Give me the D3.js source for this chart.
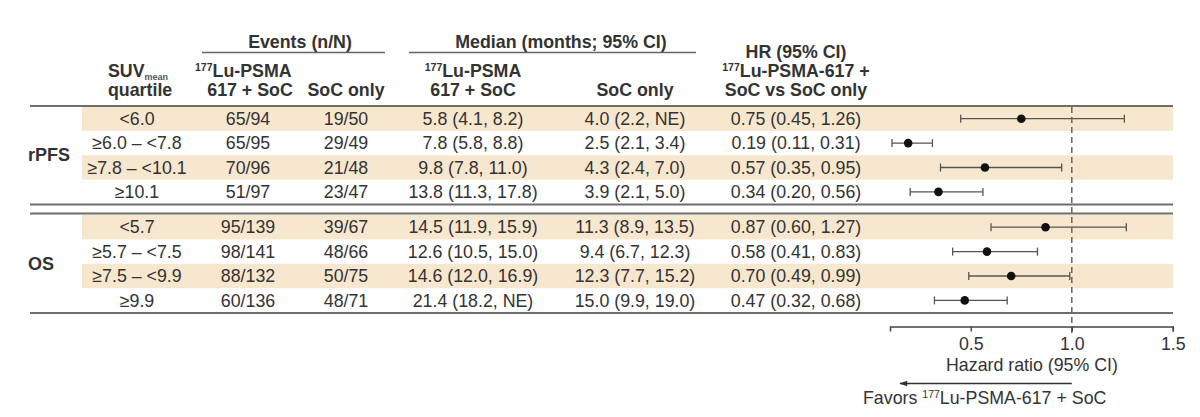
<!DOCTYPE html>
<html>
<head>
<meta charset="utf-8">
<script src="https://cdn.jsdelivr.net/npm/d3@7"></script>
<style>
	html, body { margin: 0; padding: 0; background: #fff; }
	svg { display: block; font-family: "Liberation Sans", Arial, sans-serif; }
	text { fill: #333; font-size: 17.8px; }
	.hdr { font-weight: bold; }
	.rule { stroke: #6e6e6e; stroke-width: 2; }
</style>
</head>
<body>
<svg width="1200" height="417"></svg>
<script>

	// values
	var sections = [ 'rPFS', 'OS' ],
		quartiles = [
			[ '<6.0', '≥6.0 – <7.8', '≥7.8 – <10.1', '≥10.1' ],
			[ '<5.7', '≥5.7 – <7.5', '≥7.5 – <9.9', '≥9.9' ]
		],
		eventsLu = [ [ '65/94', '65/95', '70/96', '51/97' ], [ '95/139', '98/141', '88/132', '60/136' ] ],
		eventsSoc = [ [ '19/50', '29/49', '21/48', '23/47' ], [ '39/67', '48/66', '50/75', '48/71' ] ],
		medianLu = [
			[ '5.8 (4.1, 8.2)', '7.8 (5.8, 8.8)', '9.8 (7.8, 11.0)', '13.8 (11.3, 17.8)' ],
			[ '14.5 (11.9, 15.9)', '12.6 (10.5, 15.0)', '14.6 (12.0, 16.9)', '21.4 (18.2, NE)' ]
		],
		medianSoc = [
			[ '4.0 (2.2, NE)', '2.5 (2.1, 3.4)', '4.3 (2.4, 7.0)', '3.9 (2.1, 5.0)' ],
			[ '11.3 (8.9, 13.5)', '9.4 (6.7, 12.3)', '12.3 (7.7, 15.2)', '15.0 (9.9, 19.0)' ]
		],
		hr = [ [ 0.75, 0.19, 0.57, 0.34 ], [ 0.87, 0.58, 0.70, 0.47 ] ],
		hrLow = [ [ 0.45, 0.11, 0.35, 0.20 ], [ 0.60, 0.41, 0.49, 0.32 ] ],
		hrHigh = [ [ 1.26, 0.31, 0.95, 0.56 ], [ 1.27, 0.83, 0.99, 0.68 ] ],
		hrTicks = [ 0.5, 1.0, 1.5 ];

	var svg = d3.select( 'svg' ),
		rowH = 24.4,
		sectionTop = [ 106.5, 215 ],
		left = 30,
		right = 1173,
		bandLeft = 82,
		colX = {
			quartile: 137,
			evLu: 248,
			evSoc: 346,
			medLu: 473,
			medSoc: 635,
			hr: 796
		},
		x = d3.scaleLinear().domain( [ 0.1, 1.5 ] ).range( [ 890, 1172.8 ] );

	/**
	 * text with a raised "177" in front
	 */
	function isoText( sel, rest ) {
		sel.append( 'tspan' ).attr( 'font-size', '10.5px' ).attr( 'dy', -6.5 ).text( '177' );
		sel.append( 'tspan' ).attr( 'dy', 6.5 ).text( rest );
		return sel;
	}

	// ---- header
	var head = svg.append( 'g' );

	head.append( 'text' ).attr( 'class', 'hdr' ).attr( 'x', 300 ).attr( 'y', 48 )
		.attr( 'text-anchor', 'middle' ).text( 'Events (n/N)' );
	head.append( 'line' ).attr( 'x1', 202 ).attr( 'x2', 385 ).attr( 'y1', 52.5 ).attr( 'y2', 52.5 )
		.attr( 'stroke', '#666' ).attr( 'stroke-width', 1.5 );

	head.append( 'text' ).attr( 'class', 'hdr' ).attr( 'x', 561 ).attr( 'y', 48 )
		.attr( 'text-anchor', 'middle' ).text( 'Median (months; 95% CI)' );
	head.append( 'line' ).attr( 'x1', 409 ).attr( 'x2', 696 ).attr( 'y1', 52.5 ).attr( 'y2', 52.5 )
		.attr( 'stroke', '#666' ).attr( 'stroke-width', 1.5 );

	var suv = head.append( 'text' ).attr( 'class', 'hdr' ).attr( 'x', 108 ).attr( 'y', 77 );
	suv.append( 'tspan' ).text( 'SUV' );
	suv.append( 'tspan' ).attr( 'font-size', '9px' ).attr( 'dy', 2.5 ).attr( 'fill', '#555' ).text( 'mean' );
	head.append( 'text' ).attr( 'class', 'hdr' ).attr( 'x', 108 ).attr( 'y', 96 ).text( 'quartile' );

	isoText( head.append( 'text' ).attr( 'class', 'hdr' ).attr( 'x', 195 ).attr( 'y', 77 ), 'Lu-PSMA' );
	head.append( 'text' ).attr( 'class', 'hdr' ).attr( 'x', 250 ).attr( 'y', 96 )
		.attr( 'text-anchor', 'middle' ).text( '617 + SoC' );
	head.append( 'text' ).attr( 'class', 'hdr' ).attr( 'x', colX.evSoc ).attr( 'y', 96 )
		.attr( 'text-anchor', 'middle' ).text( 'SoC only' );

	isoText( head.append( 'text' ).attr( 'class', 'hdr' ).attr( 'x', colX.medLu ).attr( 'y', 77 )
		.attr( 'text-anchor', 'middle' ), 'Lu-PSMA' );
	head.append( 'text' ).attr( 'class', 'hdr' ).attr( 'x', colX.medLu ).attr( 'y', 96 )
		.attr( 'text-anchor', 'middle' ).text( '617 + SoC' );
	head.append( 'text' ).attr( 'class', 'hdr' ).attr( 'x', colX.medSoc ).attr( 'y', 96 )
		.attr( 'text-anchor', 'middle' ).text( 'SoC only' );

	head.append( 'text' ).attr( 'class', 'hdr' ).attr( 'x', colX.hr ).attr( 'y', 58 )
		.attr( 'text-anchor', 'middle' ).text( 'HR (95% CI)' );
	isoText( head.append( 'text' ).attr( 'class', 'hdr' ).attr( 'x', colX.hr ).attr( 'y', 77 )
		.attr( 'text-anchor', 'middle' ), 'Lu-PSMA-617 +' );
	head.append( 'text' ).attr( 'class', 'hdr' ).attr( 'x', colX.hr ).attr( 'y', 96 )
		.attr( 'text-anchor', 'middle' ).text( 'SoC vs SoC only' );

	// ---- sections
	sections.forEach( function( name, s ) {
		var y = d3.scaleBand().domain( d3.range( quartiles[ s ].length ) )
				.range( [ sectionTop[ s ], sectionTop[ s ] + rowH * quartiles[ s ].length ] ),
			g = svg.append( 'g' ).attr( 'class', 'section' ),
			rows = d3.range( quartiles[ s ].length );

		g.selectAll( 'rect.band' )
			.data( rows.filter( function( i ) { return i % 2 === 0; } ) )
			.enter().append( 'rect' )
			.attr( 'class', 'band' )
			.attr( 'x', bandLeft )
			.attr( 'width', right - bandLeft )
			.attr( 'y', function( i ) { return y( i ); } )
			.attr( 'height', y.bandwidth() )
			.attr( 'fill', '#f8e7cf' );

		g.append( 'text' ).attr( 'class', 'hdr' ).attr( 'x', left - 2 )
			.attr( 'y', sectionTop[ s ] + rowH * 2 + 6 )
			.style( 'font-size', '18px' )
			.text( name );

		var cols = [
			[ colX.quartile, quartiles[ s ] ],
			[ colX.evLu, eventsLu[ s ] ],
			[ colX.evSoc, eventsSoc[ s ] ],
			[ colX.medLu, medianLu[ s ] ],
			[ colX.medSoc, medianSoc[ s ] ],
			[ colX.hr, hr[ s ].map( function( v, i ) {
				return v.toFixed( 2 ) + ' (' + hrLow[ s ][ i ].toFixed( 2 ) + ', ' + hrHigh[ s ][ i ].toFixed( 2 ) + ')';
			} ) ]
		];

		cols.forEach( function( c ) {
			g.selectAll( null )
				.data( c[ 1 ] )
				.enter().append( 'text' )
				.attr( 'x', c[ 0 ] )
				.attr( 'y', function( d, i ) { return y( i ) + y.bandwidth() / 2 + 6.2; } )
				.attr( 'text-anchor', 'middle' )
				.text( function( d ) { return d; } );
		} );

		// forest marks
		var ci = g.selectAll( 'g.ci' )
			.data( rows )
			.enter().append( 'g' )
			.attr( 'class', 'ci' )
			.attr( 'transform', function( i ) { return 'translate(0,' + ( y( i ) + y.bandwidth() / 2 ) + ')'; } );

		ci.append( 'line' )
			.attr( 'x1', function( i ) { return x( hrLow[ s ][ i ] ); } )
			.attr( 'x2', function( i ) { return x( hrHigh[ s ][ i ] ); } )
			.attr( 'stroke', '#555' ).attr( 'stroke-width', 1.3 );
		[ hrLow, hrHigh ].forEach( function( arr ) {
			ci.append( 'line' )
				.attr( 'x1', function( i ) { return x( arr[ s ][ i ] ); } )
				.attr( 'x2', function( i ) { return x( arr[ s ][ i ] ); } )
				.attr( 'y1', -4 ).attr( 'y2', 4 )
				.attr( 'stroke', '#555' ).attr( 'stroke-width', 1.3 );
		} );
		ci.append( 'circle' )
			.attr( 'cx', function( i ) { return x( hr[ s ][ i ] ); } )
			.attr( 'r', 4.3 )
			.attr( 'fill', '#111' );
	} );

	// ---- rules
	[ 106, 204.5, 213.5, 313 ].forEach( function( yy ) {
		svg.append( 'line' ).attr( 'class', 'rule' )
			.attr( 'x1', left ).attr( 'x2', right ).attr( 'y1', yy ).attr( 'y2', yy );
	} );

	// reference line at HR = 1
	svg.append( 'line' )
		.attr( 'x1', x( 1 ) ).attr( 'x2', x( 1 ) ).attr( 'y1', 107 ).attr( 'y2', 333 )
		.attr( 'stroke', '#666' ).attr( 'stroke-width', 1.5 ).attr( 'stroke-dasharray', '6,4' );

	// ---- axis
	var axis = svg.append( 'g' )
		.attr( 'transform', 'translate(0,326.5)' )
		.call( d3.axisBottom( x ).tickValues( hrTicks ).tickFormat( d3.format( '.1f' ) ).tickSizeOuter( 0 ).tickSize( 5 ).tickPadding( 6 ) );
	axis.select( '.domain' ).attr( 'stroke', '#444' ).attr( 'stroke-width', 1.5 );
	axis.selectAll( '.tick line' ).attr( 'stroke', '#444' ).attr( 'stroke-width', 1.5 );
	axis.selectAll( '.tick text' ).attr( 'fill', '#333' ).style( 'font-size', '17.8px' )
		.attr( 'font-family', null );

	svg.append( 'text' ).attr( 'x', 1032 ).attr( 'y', 371 ).attr( 'text-anchor', 'middle' )
		.text( 'Hazard ratio (95% CI)' );

	svg.append( 'defs' ).append( 'marker' )
		.attr( 'id', 'arrow' ).attr( 'viewBox', '0 0 10 10' )
		.attr( 'refX', 9 ).attr( 'refY', 5 )
		.attr( 'markerWidth', 9 ).attr( 'markerHeight', 8 )
		.attr( 'markerUnits', 'userSpaceOnUse' )
		.attr( 'orient', 'auto' )
		.append( 'path' ).attr( 'd', 'M0,1.5 L10,5 L0,8.5 Z' ).attr( 'fill', '#333' );

	svg.append( 'line' )
		.attr( 'x1', x( 1 ) ).attr( 'x2', 900 ).attr( 'y1', 383.5 ).attr( 'y2', 383.5 )
		.attr( 'stroke', '#333' ).attr( 'stroke-width', 1.3 )
		.attr( 'marker-end', 'url(#arrow)' );

	isoText( svg.append( 'text' ).attr( 'x', 863 ).attr( 'y', 404 ).text( 'Favors ' ), 'Lu-PSMA-617 + SoC' );

</script>
</body>
</html>
